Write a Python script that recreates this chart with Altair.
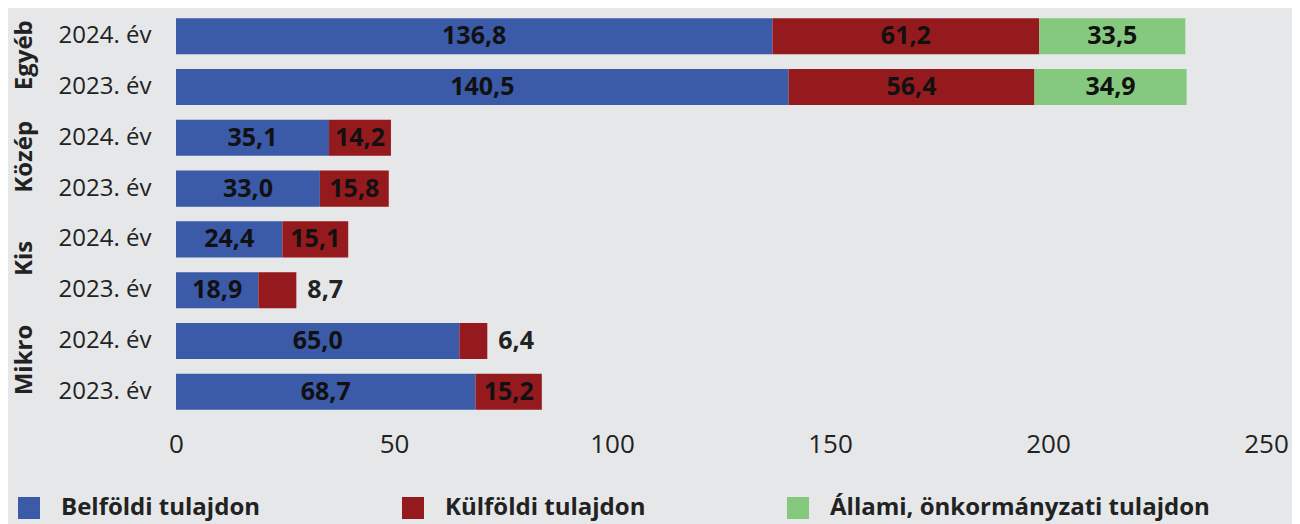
import altair as alt
import pandas as pd

# ---- data ----
groups = ["Egyéb", "Közép", "Kis", "Mikro"]
years = ["2024. év", "2023. év"]
owners = ["Belföldi tulajdon", "Külföldi tulajdon", "Állami, önkormányzati tulajdon"]
belfoldi = [136.8, 140.5, 35.1, 33.0, 24.4, 18.9, 65.0, 68.7]
kulfoldi = [61.2, 56.4, 14.2, 15.8, 15.1, 8.7, 6.4, 15.2]
allami = [33.5, 34.9, None, None, None, None, None, None]
x_ticks = [0, 50, 100, 150, 200, 250]
colors = ["#3B5AA8", "#951A1E", "#85C97E"]

rows = [f"{g}|{y}" for g in groups for y in years]
records = []
for i, r in enumerate(rows):
    for k, series in enumerate([belfoldi, kulfoldi, allami]):
        v = series[i]
        if v is not None:
            records.append({"row": r, "owner": owners[k], "order": k, "value": v})
df = pd.DataFrame(records)
grp_df = pd.DataFrame({"row": [f"{g}|{years[0]}" for g in groups], "group": groups})

FONT = "Open Sans"
TXT = "#222222"

y_scale = alt.Scale(domain=rows, paddingInner=0.29, paddingOuter=0.2)
y_enc = alt.Y(
    "row:N",
    scale=y_scale,
    axis=alt.Axis(
        title=None,
        labelExpr="split(datum.label, '|')[1]",
        labelFont=FONT,
        labelFontSize=24,
        labelColor=TXT,
        labelPadding=25,
        ticks=False,
        tickSize=0,
        domain=False,
        grid=False,
    ),
)
x_scale = alt.Scale(domain=[0, 250], nice=False)

base = (
    alt.Chart(df)
    .transform_stack(
        stack="value",
        groupby=["row"],
        sort=[alt.SortField(field="order", order="ascending")],
        as_=["x0", "x1"],
    )
    .transform_calculate(
        mid="(datum.x0 + datum.x1) / 2",
        label="replace(format(datum.value, '.1f'), '.', ',')",
    )
)

bars = base.mark_bar().encode(
    x=alt.X(
        "x0:Q",
        scale=x_scale,
        axis=alt.Axis(
            values=x_ticks,
            title=None,
            grid=False,
            ticks=False,
            tickSize=0,
            domain=False,
            labelFlush=False,
            labelFont=FONT,
            labelFontSize=26,
            labelColor=TXT,
            labelPadding=11,
        ),
    ),
    x2="x1:Q",
    y=y_enc,
    color=alt.Color(
        "owner:N",
        scale=alt.Scale(domain=owners, range=colors),
        legend=alt.Legend(
            title=None,
            orient="none",
            legendX=-159,
            legendY=488,
            direction="horizontal",
            symbolType="square",
            symbolSize=484,
            symbolStrokeWidth=0,
            symbolOpacity=1,
            labelFont=FONT,
            labelFontSize=24,
            labelFontWeight="bold",
            labelColor=TXT,
            labelOffset=20,
            labelLimit=600,
            columnPadding=140,
            padding=0,
        ),
    ),
)

inside = (
    base.transform_filter("datum.value >= 10")
    .mark_text(font=FONT, fontSize=25, fontWeight="bold", color="#111111")
    .encode(x="mid:Q", y=alt.Y("row:N"), text="label:N")
)

outside = (
    base.transform_filter("datum.value < 10")
    .mark_text(font=FONT, fontSize=25, fontWeight="bold", color=TXT, align="left", dx=11)
    .encode(x="x1:Q", y=alt.Y("row:N"), text="label:N")
)

grp = (
    alt.Chart(grp_df)
    .mark_text(font=FONT, fontSize=24, fontWeight="bold", color=TXT, angle=270, dx=-19)
    .encode(x=alt.value(-151), y=alt.Y("row:N"), text="group:N")
)

chart = (
    alt.layer(bars, inside, outside, grp)
    .properties(
        width=1090,
        height=412,
        padding={"left": 168, "top": 0, "right": 26, "bottom": 104},
        autosize=alt.AutoSizeParams(type="none"),
        background="#E6E7E9",
    )
    .configure_view(stroke=None)
)

chart.save("out.html", embed_options={"renderer": "svg", "actions": False})
